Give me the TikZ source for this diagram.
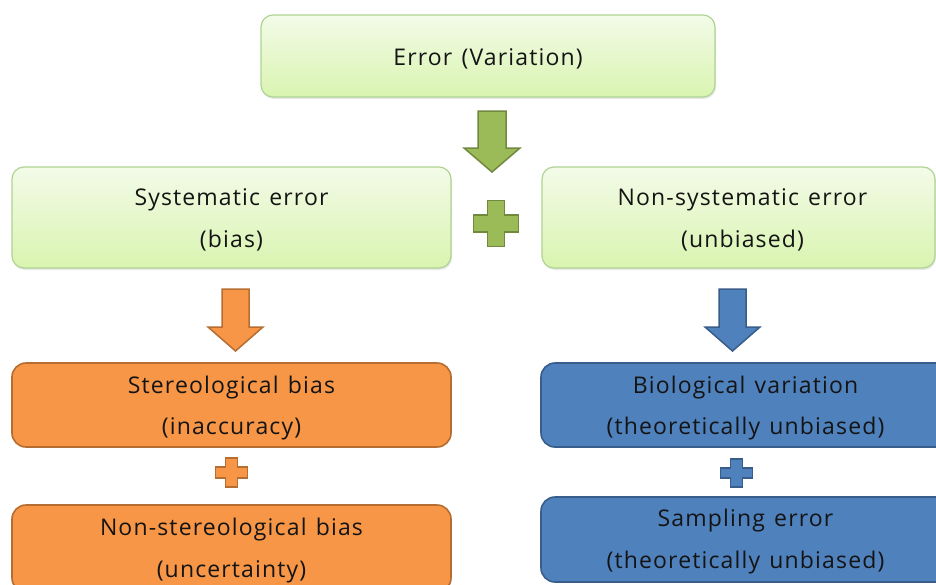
\documentclass[tikz,border=0pt]{standalone}
\usepackage{fontspec}
\setmainfont[LetterSpace=5,WordSpace=1.3]{Open Sans}
\usetikzlibrary{shadows}
\definecolor{gfill}{HTML}{9BBB59}
\definecolor{gline}{HTML}{71893F}
\definecolor{gtop}{HTML}{F3FBE8}
\definecolor{gbot}{HTML}{D9F4B0}
\definecolor{gbord}{HTML}{AFD392}
\definecolor{ofill}{HTML}{F79646}
\definecolor{oline}{HTML}{B66D31}
\definecolor{bfill}{HTML}{4F81BD}
\definecolor{bline}{HTML}{385D8A}
\definecolor{txt}{HTML}{141414}
\begin{document}
\begin{tikzpicture}[x=1pt,y=-1pt,
  boxtext/.style={font=\fontsize{23}{41.5}\selectfont, text=txt, align=center, inner sep=0pt},
  greenbox/.style={draw=gbord, line width=1.2pt, rounded corners=12pt, top color=gtop, bottom color=gbot,
     drop shadow={opacity=0.18, shadow xshift=1pt, shadow yshift=-2pt}},
  orangebox/.style={draw=oline, line width=1.6pt, rounded corners=14pt, fill=ofill},
  bluebox/.style={draw=bline, line width=1.6pt, rounded corners=14pt, fill=bfill},
  garrow/.style={draw=gline, line width=1.5pt, fill=gfill, line join=miter},
  oarrow/.style={draw=oline, line width=1.5pt, fill=ofill, line join=miter},
  barrow/.style={draw=bline, line width=1.5pt, fill=bfill, line join=miter},
  plussign/.pic={\path[pic actions] (-0.37,-1) -- (0.37,-1) -- (0.37,-0.37) -- (1,-0.37) -- (1,0.37) -- (0.37,0.37) -- (0.37,1) -- (-0.37,1) -- (-0.37,0.37) -- (-1,0.37) -- (-1,-0.37) -- (-0.37,-0.37) -- cycle;}
]
\useasboundingbox (0,0) rectangle (936,584);
\fill[white] (0,0) rectangle (936,584);

% boxes
\node[greenbox, minimum width=454pt, minimum height=82pt] (err) at (488,56) {};
\node[greenbox, minimum width=439pt, minimum height=101pt] (sys) at (231.5,217.5) {};
\node[greenbox, minimum width=393pt, minimum height=101pt] (nsys) at (738.5,217.5) {};
\node[orangebox, minimum width=439pt, minimum height=84pt] (stereo) at (231.5,405) {};
\node[orangebox, minimum width=439pt, minimum height=87pt] (nstereo) at (231.5,548.5) {};
\node[bluebox, minimum width=409pt, minimum height=84pt] (bio) at (745.5,405) {};
\node[bluebox, minimum width=409pt, minimum height=85pt] (samp) at (745.5,539.5) {};

% texts
\node[boxtext] (errT) at ([yshift=-2.5pt]err.center) {Error (Variation)};
\node[boxtext] (sysT) at ([yshift=-2.5pt]sys.center) {Systematic error\\(bias)};
\node[boxtext] (nsysT) at ([xshift=4pt,yshift=-2.5pt]nsys.center) {Non-systematic error\\(unbiased)};
\node[boxtext] (stereoT) at ([yshift=-3pt]stereo.center) {Stereological bias\\(inaccuracy)};
\node[boxtext] (nstereoT) at ([yshift=-2pt]nstereo.center) {Non-stereological bias\\(uncertainty)};
\node[boxtext] (bioT) at ([yshift=-3pt]bio.center) {Biological variation\\(theoretically unbiased)};
\node[boxtext] (sampT) at ([yshift=-2pt]samp.center) {Sampling error\\(theoretically unbiased)};

% block arrows
\draw[garrow] (478,111) -- (506,111) -- (506,148) -- (520,148) -- (492,172) -- (464,148) -- (478,148) -- cycle;
\draw[oarrow] (222,289) -- (249,289) -- (249,327) -- (263,327) -- (235.5,351) -- (208,327) -- (222,327) -- cycle;
\draw[barrow] (719,289) -- (746,289) -- (746,327) -- (760,327) -- (732.5,351) -- (705,327) -- (719,327) -- cycle;

% plus signs
\pic[draw=gline, fill=gfill, line width=1.5pt, xscale=22.5, yscale=23] at (496,223.5) {plussign};
\pic[draw=oline, fill=ofill, line width=1.4pt, xscale=16, yscale=14.5] at (231.5,472.5) {plussign};
\pic[draw=bline, fill=bfill, line width=1.4pt, xscale=16, yscale=14] at (736.5,473) {plussign};
\end{tikzpicture}
\end{document}
